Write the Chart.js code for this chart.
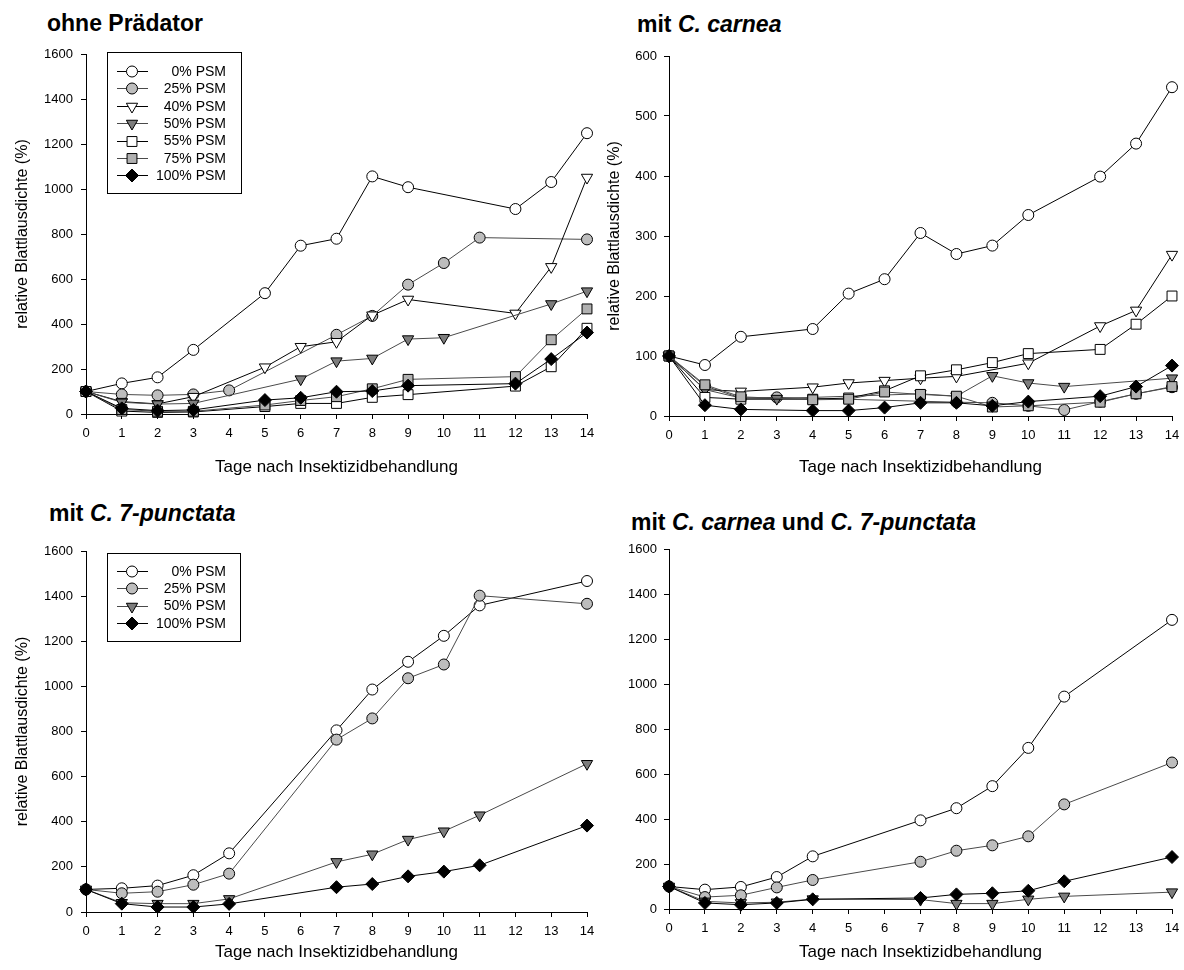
<!DOCTYPE html>
<html><head><meta charset="utf-8">
<script src="https://cdn.jsdelivr.net/npm/chart.js@4.4.1/dist/chart.umd.min.js"></script>
<style>
html,body{margin:0;padding:0;background:#fff;}
#wrap{position:relative;width:1184px;height:970px;overflow:hidden;background:#fff;}
canvas{position:absolute;}
.ttl{position:absolute;font-family:"Liberation Sans",Arial,sans-serif;font-weight:bold;font-size:23px;line-height:23px;white-space:nowrap;color:#000;}
.ttl i{font-style:italic;}
</style></head><body>
<div id="wrap">
  <div class="ttl" style="left:47px;top:12px">ohne Prädator</div>
  <div class="ttl" style="left:637px;top:13px">mit <i>C. carnea</i></div>
  <div class="ttl" style="left:49px;top:502px">mit <i>C. 7-punctata</i></div>
  <div class="ttl" style="left:631px;top:511px">mit <i>C. carnea</i> und <i>C. 7-punctata</i></div>
  <canvas id="c1" width="600" height="485" style="left:0;top:0"></canvas>
  <canvas id="c2" width="592" height="485" style="left:592px;top:0"></canvas>
  <canvas id="c3" width="600" height="485" style="left:0;top:485px"></canvas>
  <canvas id="c4" width="592" height="485" style="left:592px;top:485px"></canvas>
</div>
<script>
// ---- data ----
const days = [0,1,2,3,4,5,6,7,8,9,10,11,12,13,14];
const xTitle = 'Tage nach Insektizidbehandlung';
const yTitle = 'relative Blattlausdichte (%)';

// Panel 1: ohne Prädator
const p1_psm0   = [100,136,163,285,null,537,748,779,1056,1008,null,null,911,1031,1248];
const p1_psm25  = [100,87,83,87,105,null,null,352,436,575,671,784,null,null,776];
const p1_psm40  = [100,55,45,77,null,208,299,321,439,509,null,null,447,654,1051];
const p1_psm50  = [100,52,44,47,null,null,155,235,247,333,339,null,null,489,546];
const p1_psm55  = [100,13,7,9,null,33,47,47,74,86,null,null,124,210,381];
const p1_psm75  = [100,20,12,12,null,40,60,77,112,154,null,null,166,330,467];
const p1_psm100 = [100,25,15,18,null,62,72,99,102,126,null,null,135,244,362];

// Panel 2: mit C. carnea
const p2_psm0   = [100,85,132,null,145,204,228,305,270,284,335,null,399,454,548];
const p2_psm25  = [100,50,30,31,null,null,null,null,23,22,17,10,24,37,48];
const p2_psm40  = [100,44,41,null,48,55,59,63,66,null,88,null,150,176,269];
const p2_psm50  = [100,44,30,29,null,null,null,37,33,67,55,49,null,null,63];
const p2_psm55  = [100,31,28,null,28,30,42,67,77,89,104,null,111,153,200];
const p2_psm75  = [100,52,32,null,27,28,40,36,33,15,17,null,23,37,49];
const p2_psm100 = [100,18,11,null,9,9,14,22,22,17,24,null,33,49,84];

// Panel 3: mit C. 7-punctata
const p3_psm0   = [100,105,117,163,260,null,null,805,986,1109,1224,1359,null,null,1467];
const p3_psm25  = [100,83,90,121,170,null,null,764,858,1036,1097,1402,null,null,1366];
const p3_psm50  = [100,41,37,37,58,null,null,222,256,321,358,429,null,null,657];
const p3_psm100 = [100,37,22,22,36,null,null,110,124,158,179,207,null,null,383];

// Panel 4: mit C. carnea und C. 7-punctata
const p4_psm0   = [100,86,98,142,234,null,null,394,448,546,716,944,null,null,1285];
const p4_psm25  = [100,53,61,96,129,null,null,210,259,283,323,465,null,null,651];
const p4_psm50  = [100,34,27,30,44,null,null,42,24,24,43,56,null,null,75];
const p4_psm100 = [100,27,19,27,43,null,null,49,65,70,81,123,null,null,231];

// ---- styles ----
const FONT = '"Liberation Sans", Arial, sans-serif';
const ST = {
  '0% PSM':   {ps:'circle',   fill:'#ffffff', r:5.5, rot:0,   line:'#000'},
  '25% PSM':  {ps:'circle',   fill:'#bdbdbd', r:5.5, rot:0,   line:'#4a4a4a'},
  '40% PSM':  {ps:'triangle', fill:'#ffffff', r:6.5, rot:180, line:'#000'},
  '50% PSM':  {ps:'triangle', fill:'#7d7d7d', r:6.5, rot:180, line:'#4a4a4a'},
  '55% PSM':  {ps:'rect',     fill:'#ffffff', r:7,   rot:0,   line:'#000'},
  '75% PSM':  {ps:'rect',     fill:'#b0b0b0', r:7,   rot:0,   line:'#4a4a4a'},
  '100% PSM': {ps:'rectRot',  fill:'#000000', r:6.5, rot:0,   line:'#000'}
};

function mk(label, vals, idx){
  const s = ST[label];
  return {
    label, order: -idx,
    data: days.map((d,i)=>({x:d, y:vals[i]})).filter(p=>p.y!==null),
    borderColor: s.line, borderWidth: 1, tension: 0, fill:false,
    pointStyle: s.ps, pointRotation: s.rot, pointRadius: s.r, pointHoverRadius: s.r,
    pointBackgroundColor: s.fill, pointBorderColor: '#000', pointBorderWidth: 1,
    clip: false
  };
}

function drawMarker(ctx, s, x, y){
  ctx.save();
  ctx.fillStyle = s.fill; ctx.strokeStyle = '#000'; ctx.lineWidth = 1;
  ctx.beginPath();
  const r = s.r;
  if (s.ps === 'circle') { ctx.arc(x, y, r, 0, Math.PI*2); }
  else if (s.ps === 'triangle') {
    const a = s.rot*Math.PI/180;
    for (let k=0;k<3;k++){ const t=a+k*2*Math.PI/3; const px=x+Math.sin(t)*r, py=y-Math.cos(t)*r; k?ctx.lineTo(px,py):ctx.moveTo(px,py);} ctx.closePath();
  } else if (s.ps === 'rect') { const h=r*Math.SQRT1_2; ctx.rect(x-h,y-h,2*h,2*h); }
  else { ctx.moveTo(x-r,y); ctx.lineTo(x,y-r); ctx.lineTo(x+r,y); ctx.lineTo(x,y+r); ctx.closePath(); }
  ctx.fill(); ctx.stroke();
  ctx.restore();
}

const boxLegend = {
  id: 'boxLegend',
  afterDraw(chart, args, o){
    if (!o || !o.show) return;
    const ctx = chart.ctx;
    ctx.save();
    ctx.fillStyle = '#fff'; ctx.fillRect(o.bx, o.by, o.bw, o.bh);
    ctx.strokeStyle = '#000'; ctx.lineWidth = 1; ctx.strokeRect(o.bx+0.5, o.by+0.5, o.bw, o.bh);
    chart.data.datasets.forEach((ds, i) => {
      const y = o.by + o.first + i*o.step;
      ctx.strokeStyle = ds.borderColor; ctx.lineWidth = 1;
      ctx.beginPath(); ctx.moveTo(o.lx0, Math.round(y)+0.5); ctx.lineTo(o.lx1, Math.round(y)+0.5); ctx.stroke();
      drawMarker(ctx, ST[ds.label], o.mx, Math.round(y)+0.5);
      ctx.fillStyle = '#000'; ctx.font = '14px ' + FONT; ctx.textAlign = 'right'; ctx.textBaseline = 'middle';
      ctx.fillText(ds.label, o.tx, y + 1);
    });
    ctx.restore();
  }
};

function makeScales(yMax, yStep, yW, xH, yTitleShow, yPad){
  return {
    x: {
      type: 'linear', min: 0, max: 14,
      afterFit(s){ s.height = xH; s.paddingLeft = 0; s.paddingRight = 0; },
      ticks: {stepSize: 1, autoSkip: false, maxRotation: 0, padding: 7, color: '#000',
              font: {family: FONT, size: 13}, callback: v => String(v)},
      grid: {drawOnChartArea: false, color: '#000', tickLength: 5, lineWidth: 1},
      border: {color: '#000', width: 1},
      title: {display: true, text: xTitle, color: '#000', font: {family: FONT, size: 17}, padding: {top: 0, bottom: 7}}
    },
    y: {
      type: 'linear', min: 0, max: yMax,
      afterFit(s){ s.width = yW; s.paddingTop = 0; s.paddingBottom = 0; },
      ticks: {stepSize: yStep, padding: yPad, color: '#000',
              font: {family: FONT, size: 13}, callback: v => String(v)},
      grid: {drawOnChartArea: false, color: '#000', tickLength: 5, lineWidth: 1},
      border: {color: '#000', width: 1},
      title: {display: yTitleShow, text: yTitle, color: '#000', font: {family: FONT, size: 16}, padding: {top: 13, bottom: 0}}
    }
  };
}

function makeChart(id, datasets, pad, yMax, yStep, yW, xH, yTitleShow, yPad, legend){
  return new Chart(document.getElementById(id), {
    type: 'line',
    data: {datasets},
    options: {
      responsive: false, animation: false, devicePixelRatio: 1,
      layout: {padding: pad},
      scales: makeScales(yMax, yStep, yW, xH, yTitleShow, yPad),
      plugins: {legend: {display: false}, tooltip: {enabled: false}, title: {display: false},
                boxLegend: legend || {show: false}},
      events: []
    },
    plugins: [boxLegend]
  });
}

makeChart('c1', [
  mk('0% PSM', p1_psm0, 0), mk('25% PSM', p1_psm25, 1), mk('40% PSM', p1_psm40, 2), mk('50% PSM', p1_psm50, 3),
  mk('55% PSM', p1_psm55, 4), mk('75% PSM', p1_psm75, 5), mk('100% PSM', p1_psm100, 6)
], {left: 0, top: 54, right: 13, bottom: 0}, 1600, 200, 86, 71, true, 8,
  {show: true, bx: 107, by: 52, bw: 134, bh: 141, first: 19, step: 17.4, lx0: 117, lx1: 148, mx: 132, tx: 226});

makeChart('c2', [
  mk('0% PSM', p2_psm0, 0), mk('25% PSM', p2_psm25, 1), mk('40% PSM', p2_psm40, 2), mk('50% PSM', p2_psm50, 3),
  mk('55% PSM', p2_psm55, 4), mk('75% PSM', p2_psm75, 5), mk('100% PSM', p2_psm100, 6)
], {left: 0, top: 56, right: 12, bottom: 0}, 600, 100, 77, 69, true, 7, null);

makeChart('c3', [
  mk('0% PSM', p3_psm0, 0), mk('25% PSM', p3_psm25, 1), mk('50% PSM', p3_psm50, 2), mk('100% PSM', p3_psm100, 3)
], {left: 0, top: 66, right: 13, bottom: 0}, 1600, 200, 86, 58, true, 8,
  {show: true, bx: 107, by: 68, bw: 133, bh: 88, first: 18, step: 17.3, lx0: 117, lx1: 148, mx: 132, tx: 226});

makeChart('c4', [
  mk('0% PSM', p4_psm0, 0), mk('25% PSM', p4_psm25, 1), mk('50% PSM', p4_psm50, 2), mk('100% PSM', p4_psm100, 3)
], {left: 0, top: 64, right: 12, bottom: 0}, 1600, 200, 77, 61, false, 7, null);
</script>
</body></html>
